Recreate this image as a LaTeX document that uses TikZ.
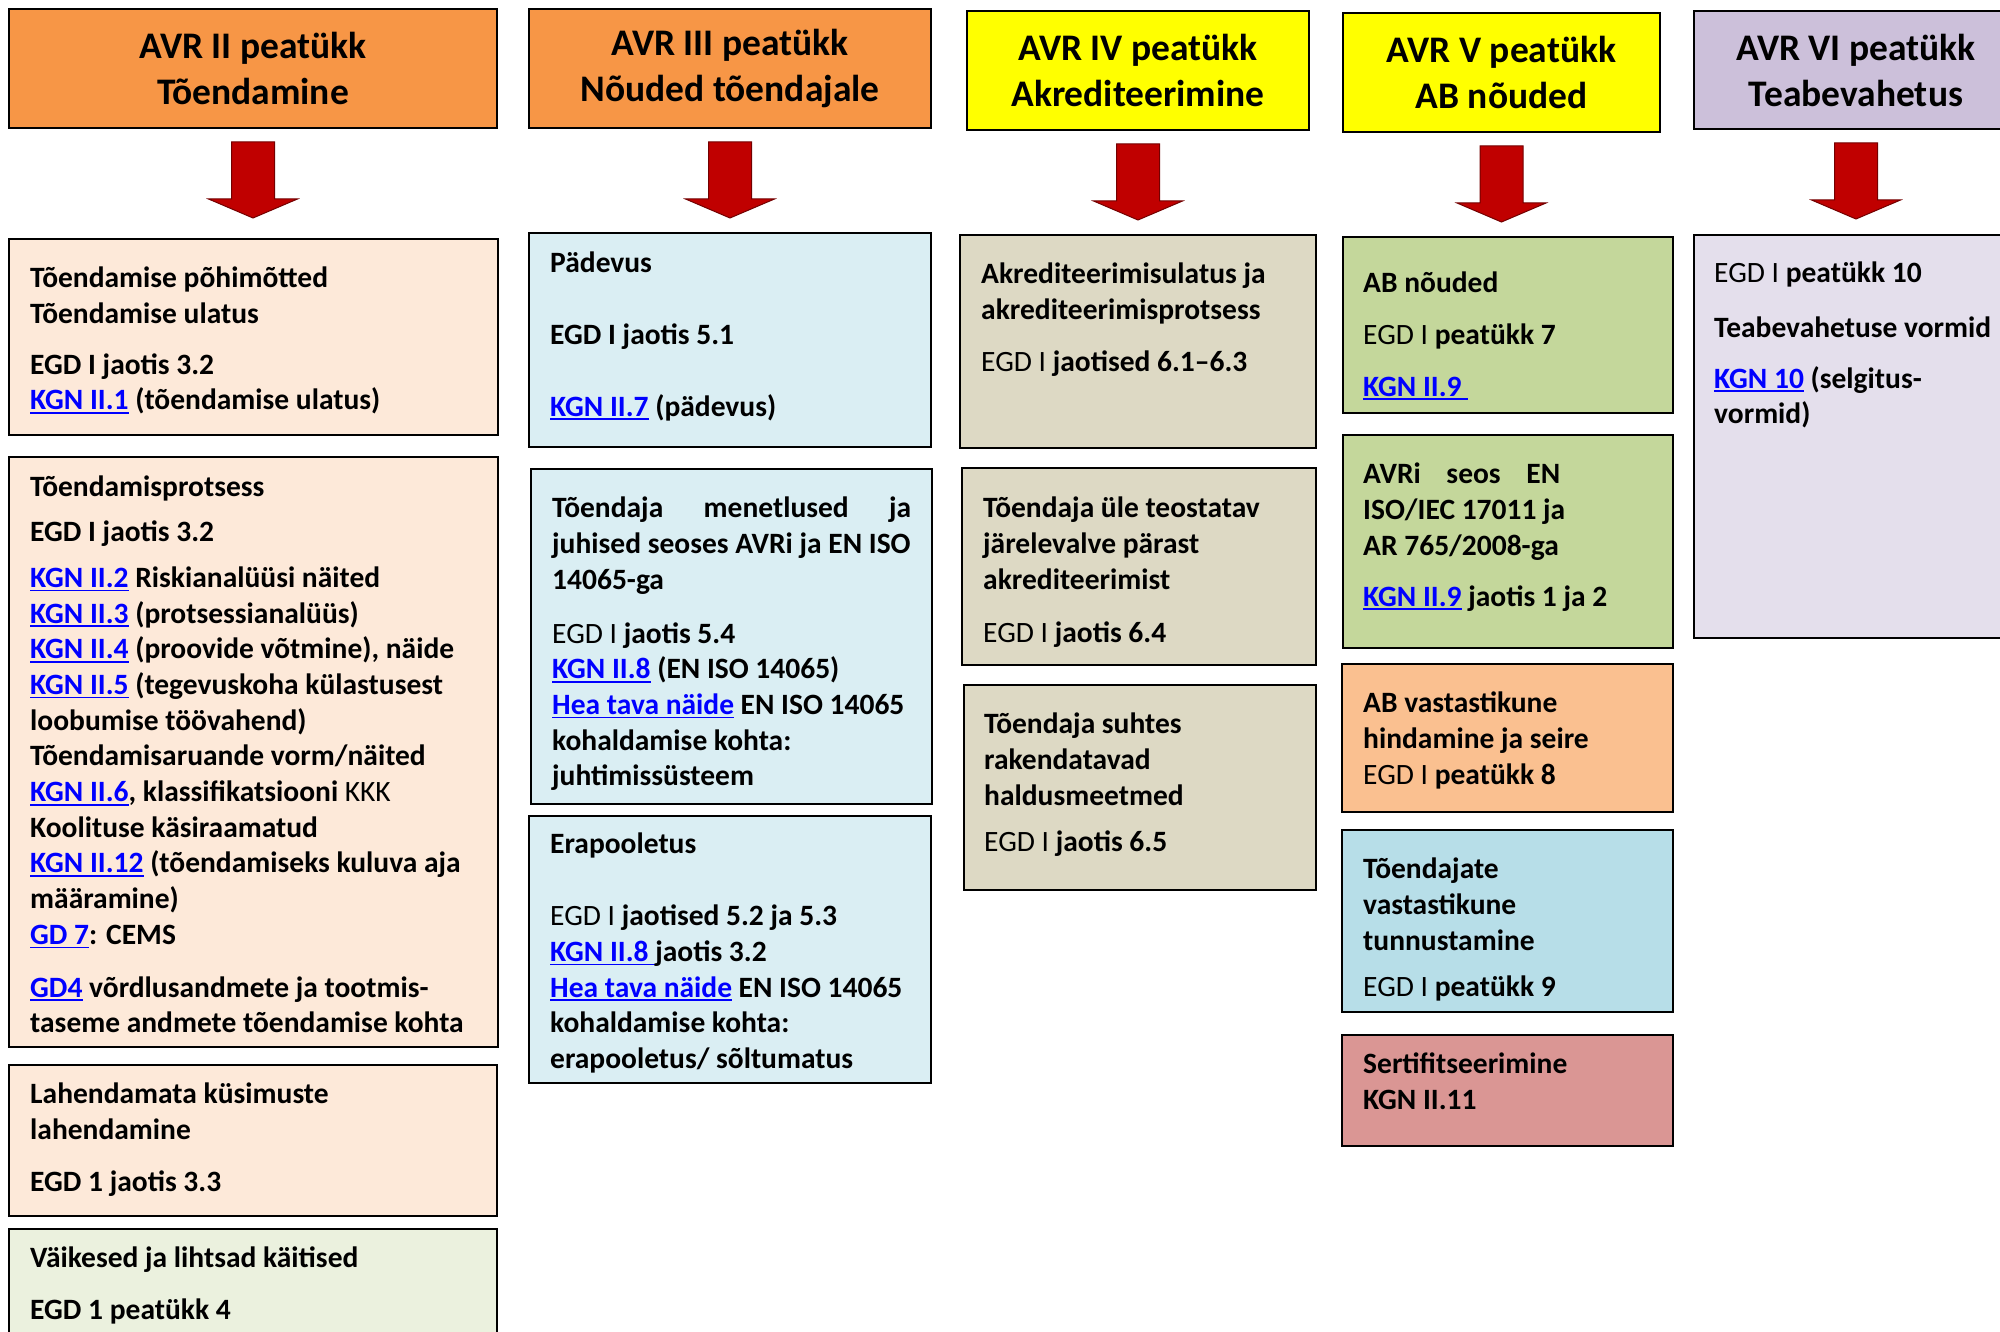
\documentclass[tikz,border=0pt]{standalone}
\usepackage{fontspec}
\setmainfont{Carlito}
\usepackage{xcolor}
\usepackage{tikz}

\definecolor{headorange}{HTML}{F79646}
\definecolor{headyellow}{HTML}{FFFF00}
\definecolor{headpurple}{HTML}{CCC0DA}
\definecolor{peach}{HTML}{FDE9D9}
\definecolor{palegreen}{HTML}{EBF1DE}
\definecolor{paleblue}{HTML}{DAEEF3}
\definecolor{khaki}{HTML}{DDD9C4}
\definecolor{olivegreen}{HTML}{C4D79B}
\definecolor{apricot}{HTML}{FAC090}
\definecolor{skyblue}{HTML}{B7DEE8}
\definecolor{rose}{HTML}{DA9694}
\definecolor{lilac}{HTML}{E4DFEC}
\definecolor{arrowred}{HTML}{C00000}
\definecolor{linkblue}{HTML}{0000FF}

\newcommand{\viide}[1]{{\color{linkblue}\setbox0\hbox{#1}\rlap{\rule[-4pt]{\wd0}{1.8pt}}\box0}}

\begin{document}
\begin{tikzpicture}[x=1pt, y=-1pt,
    head/.style={draw, line width=2pt, anchor=north west, inner sep=0pt, outer sep=0pt, align=center, font=\fontsize{37.5}{46}\selectfont\bfseries},
    box/.style={draw, line width=2pt, anchor=north west, inner sep=0pt, outer sep=0pt},
    txt/.style={anchor=north west, inner sep=0pt, align=left, font=\fontsize{29.5}{35.7}\selectfont\bfseries, execute at begin node=\strut},
    blockarrow/.style={fill=arrowred, draw=arrowred!60!black, line width=1pt}]
        \useasboundingbox (0,0) rectangle (2000,1332);

        % Headers
        \node[head, fill=headorange, minimum width=488, minimum height=119] (h1) at (9,9) {AVR II peatükk\\Tõendamine};
        \node[head, fill=headorange, minimum width=402, minimum height=119] (h2) at (529,9) {AVR III peatükk\\Nõuded tõendajale};
        \node[head, fill=headyellow, minimum width=342, minimum height=119] (h3) at (967,11) {AVR IV peatükk\\Akrediteerimine};
        \node[head, fill=headyellow, minimum width=317, minimum height=119] (h4) at (1343,13) {AVR V peatükk\\AB nõuded};
        \node[head, fill=headpurple, minimum width=324, minimum height=118] (h5) at (1694,11) {AVR VI peatükk\\Teabevahetus};

        % Arrows
        \foreach \h in {h1,h2,h3,h4,h5}
            \draw[blockarrow] (\h.south) ++(-21.5,14) -- ++(43,0) -- ++(0,57) -- ++(23,0) -- ++(-44.5,19) -- ++(-44.5,-19) -- ++(23,0) -- cycle;

        % Boxes
        \node[box, fill=peach, minimum width=489, minimum height=196] (b1) at (9,239) {};
        \node[box, fill=peach, minimum width=489, minimum height=590] (b2) at (9,457) {};
        \node[box, fill=peach, minimum width=488, minimum height=151] (b3) at (9,1065) {};
        \node[box, fill=palegreen, minimum width=488, minimum height=130] (b4) at (9,1229) {};
        \node[box, fill=paleblue, minimum width=402, minimum height=214] (c1) at (529,233) {};
        \node[box, fill=paleblue, minimum width=401, minimum height=335] (c2) at (531,469) {};
        \node[box, fill=paleblue, minimum width=402, minimum height=267] (c3) at (529,816) {};
        \node[box, fill=khaki, minimum width=356, minimum height=213] (d1) at (960,235) {};
        \node[box, fill=khaki, minimum width=354, minimum height=197] (d2) at (962,468) {};
        \node[box, fill=khaki, minimum width=352, minimum height=205] (d3) at (964,685) {};
        \node[box, fill=olivegreen, minimum width=330, minimum height=176] (e1) at (1343,237) {};
        \node[box, fill=olivegreen, minimum width=330, minimum height=213] (e2) at (1343,435) {};
        \node[box, fill=apricot, minimum width=331, minimum height=148] (e3) at (1342,664) {};
        \node[box, fill=skyblue, minimum width=331, minimum height=182] (e4) at (1342,830) {};
        \node[box, fill=rose, minimum width=331, minimum height=111] (e5) at (1342,1035) {};
        \node[box, fill=lilac, minimum width=324, minimum height=403] (f1) at (1694,235) {};

        % Texts
        \node[txt] (b1t) at (30,267) {Tõendamise põhimõtted\\Tõendamise ulatus\\[15pt]
            EGD I jaotis 3.2\\\viide{KGN II.1} (tõendamise ulatus)};
        \node[txt] (b2t) at (30,476) {Tõendamisprotsess\\[9pt]EGD I jaotis 3.2\\[10pt]
            \viide{KGN II.2} Riskianalüüsi näited\\
            \viide{KGN II.3} (protsessianalüüs)\\
            \viide{KGN II.4} (proovide võtmine), näide\\
            \viide{KGN II.5} (tegevuskoha külastusest\\
            loobumise töövahend)\\
            Tõendamisaruande vorm/näited\\
            \viide{KGN II.6}, klassifikatsiooni \textmd{KKK}\\
            Koolituse käsiraamatud\\
            \viide{KGN II.12} (tõendamiseks kuluva aja\\
            määramine)\\
            \viide{GD 7}: CEMS\\[17pt]
            \viide{GD4} võrdlusandmete ja tootmis-\\
            taseme andmete tõendamise kohta};
        \node[txt] (b3t) at (30,1083) {Lahendamata küsimuste\\lahendamine\\[16pt]EGD 1 jaotis 3.3};
        \node[txt] (b4t) at (30,1247) {Väikesed ja lihtsad käitised\\[16pt]EGD 1 peatükk 4};
        \node[txt] (c1t) at (550,252) {Pädevus\\[36pt]EGD I jaotis 5.1\\[36pt]\viide{KGN II.7} (pädevus)};
        \node[txt] (c2t) at (552,497) {\makebox[359pt][s]{Tõendaja menetlused ja}\\
            juhised seoses AVRi ja EN ISO\\14065-ga\\[18pt]
            \textmd{EGD I} jaotis 5.4\\
            \viide{KGN II.8} (EN ISO 14065)\\
            \viide{Hea tava näide} EN ISO 14065\\
            kohaldamise kohta:\\juhtimissüsteem};
        \node[txt] (c3t) at (550,833) {Erapooletus\\[36pt]
            \textmd{EGD I} jaotised 5.2 ja 5.3\\
            \viide{KGN II.8\ }jaotis 3.2\\
            \viide{Hea tava näide} EN ISO 14065\\
            kohaldamise kohta:\\erapooletus/ sõltumatus};
        \node[txt] (d1t) at (981,263) {Akrediteerimisulatus ja\\akrediteerimisprotsess\\[16pt]\textmd{EGD I} jaotised 6.1--6.3};
        \node[txt] (d2t) at (983,497) {Tõendaja üle teostatav\\järelevalve pärast\\akrediteerimist\\[17pt]\textmd{EGD I} jaotis 6.4};
        \node[txt] (d3t) at (984,713) {Tõendaja suhtes\\rakendatavad\\haldusmeetmed\\[10pt]\textmd{EGD I} jaotis 6.5};
        \node[txt] (e1t) at (1363,272) {AB nõuded\\[16pt]\textmd{EGD I} peatükk 7\\[16pt]\viide{KGN II.9\ }};
        \node[txt] (e2t) at (1363,463) {\makebox[197pt][s]{AVRi seos EN}\\ISO/IEC 17011 ja\\AR 765/2008-ga\\[15pt]\viide{KGN II.9} jaotis 1 ja 2};
        \node[txt] (e3t) at (1363,692) {AB vastastikune\\hindamine ja seire\\\textmd{EGD I} peatükk 8};
        \node[txt] (e4t) at (1363,858) {Tõendajate\\vastastikune\\tunnustamine\\[10pt]\textmd{EGD I} peatükk 9};
        \node[txt] (e5t) at (1363,1053) {Sertifitseerimine\\KGN II.11};
        \node[txt] (f1t) at (1714,262) {\textmd{EGD I} peatükk 10\\[19pt]Teabevahetuse vormid\\[15pt]\viide{KGN 10} (selgitus-\\vormid)};

    \end{tikzpicture}
\end{document}
